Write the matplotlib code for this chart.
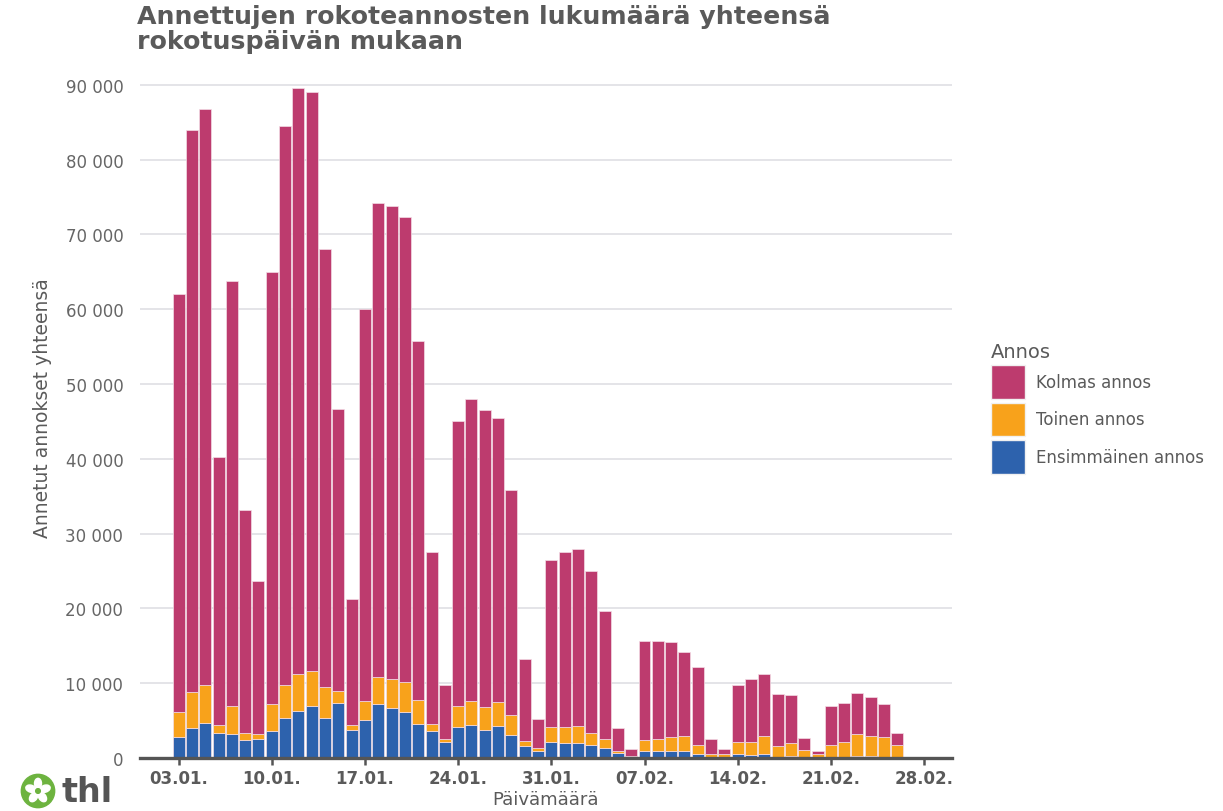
import numpy as np
import pandas as pd
import matplotlib.pyplot as plt
import matplotlib.dates as mdates
from matplotlib.patches import Circle, Ellipse, Patch

# vaccination days 03.01. - 26.02.
days = pd.date_range('2022-01-03', '2022-02-26')

ensimmainen = [2800, 4000, 4700, 3300, 3200, 2400, 2600, 3600, 5400, 6300, 7000, 5400, 7300, 3700,
               5100, 7200, 6700, 6200, 4500, 3600, 2100, 4200, 4400, 3800, 4300, 3100, 1600, 1000,
               2100, 2000, 2000, 1700, 1300, 700, 200, 1000, 1000, 1000, 1000, 500, 200, 100,
               500, 400, 500, 200, 300, 100, 100, 100, 200, 300, 300, 200, 100]
toinen = [3300, 4800, 5000, 1100, 3800, 1000, 600, 3600, 4300, 4900, 4600, 4100, 1600, 700,
          2500, 3600, 3800, 3900, 3300, 1000, 400, 2800, 3200, 3000, 3200, 2700, 700, 300,
          2100, 2100, 2300, 1600, 1300, 200, 100, 1400, 1600, 1800, 1900, 1200, 300, 400,
          1600, 1800, 2500, 1400, 1700, 1000, 400, 1700, 2000, 2900, 2700, 2600, 1600]
kolmas = [55900, 75200, 77000, 35900, 56800, 29800, 20400, 57800, 74800, 78300, 77400, 58500, 37800, 16800,
          52400, 63400, 63300, 62200, 47900, 23000, 7300, 38000, 40400, 39700, 38000, 30000, 10900, 3900,
          22300, 23500, 23600, 21700, 17100, 3100, 900, 13200, 13000, 12700, 11300, 10500, 2100, 700,
          7600, 8300, 8200, 6900, 6400, 1600, 400, 5200, 5200, 5500, 5100, 4400, 1700]

series = ['Ensimmäinen annos', 'Toinen annos', 'Kolmas annos']
colors = ['#2D62AD', '#F8A21B', '#BD3B6E']
ticks = pd.date_range('2022-01-03', '2022-02-28', freq='7D')

grey = '#5a5a5a'
fig = plt.figure(figsize=(12.23, 8.12), dpi=100)
ax = fig.add_axes([140 / 1223, 1 - 759 / 812, 812 / 1223, 677 / 812])

bottom = np.zeros(len(days))
handles = []
for name, vals, c in zip(series, [ensimmainen, toinen, kolmas], colors):
    ax.bar(days, vals, bottom=bottom, width=0.9, color=c, edgecolor='#f3dde6', linewidth=0.5, zorder=3)
    bottom += np.array(vals)
    handles.append(Patch(facecolor=c, edgecolor='#f0f0f0', label=name))

ax.set_xlim(days[0] - pd.Timedelta(days=2.9), days[0] + pd.Timedelta(days=58.1))
ax.set_ylim(0, 90500)
ax.set_xticks(ticks)
ax.xaxis.set_major_formatter(mdates.DateFormatter('%d.%m.'))
ax.set_yticks(range(0, 90001, 10000))
ax.set_yticklabels(['0'] + [f'{v // 1000} 000' for v in range(10000, 90001, 10000)])

ax.grid(axis='y', color='#e2e2e6', linewidth=1.3, zorder=0)
for s in ['top', 'right', 'left']:
    ax.spines[s].set_visible(False)
ax.spines['bottom'].set_color('#555555')
ax.spines['bottom'].set_linewidth(2.4)
ax.spines['bottom'].set_zorder(4)
ax.tick_params(axis='y', length=0, pad=12, labelsize=12, labelcolor='#666666')
ax.tick_params(axis='x', length=5, width=1.8, color='#555555', pad=3, labelsize=12, labelcolor=grey)
for lab in ax.get_xticklabels():
    lab.set_fontweight('bold')

ax.set_ylabel('Annetut annokset yhteensä', fontsize=13.5, color=grey)
ax.yaxis.set_label_coords(-0.108, 0.518)
ax.set_xlabel('Päivämäärä', fontsize=13, color=grey, labelpad=2)

fig.text(137 / 1223, 1 - 5 / 812, 'Annettujen rokoteannosten lukumäärä yhteensä\nrokotuspäivän mukaan',
         ha='left', va='top', fontsize=18.2, fontweight='bold', color=grey, linespacing=1.05)

leg = fig.legend(handles=handles[::-1], loc='upper left', bbox_to_anchor=(976 / 1223, 1 - 328 / 812),
                 frameon=False, title='Annos', fontsize=12, title_fontsize=14, handlelength=2.05,
                 handleheight=2.7, labelspacing=0.25, handletextpad=0.62, alignment='left')
for t in leg.get_texts():
    t.set_color(grey)
leg.get_title().set_color(grey)

# thl logo
lax = fig.add_axes([18 / 1223, 0, 40 / 1223, 40 / 812])
lax.set_xlim(-1.2, 1.2)
lax.set_ylim(-1.2, 1.2)
lax.set_aspect('equal')
lax.axis('off')
lax.add_patch(Circle((0, 0), 1.0, color='#6DB33F'))
for k in range(5):
    a = np.pi / 2 + k * 2 * np.pi / 5
    lax.add_patch(Ellipse((0.45 * np.cos(a), 0.45 * np.sin(a)), 0.42, 0.62,
                          angle=np.degrees(a) - 90, color='white'))
lax.add_patch(Circle((0, 0), 0.14, color='#6DB33F'))
fig.text(62 / 1223, 3 / 812, 'thl', fontsize=24, fontweight='bold', color='#555555', ha='left', va='bottom')

fig.savefig('out.png', dpi=100)
